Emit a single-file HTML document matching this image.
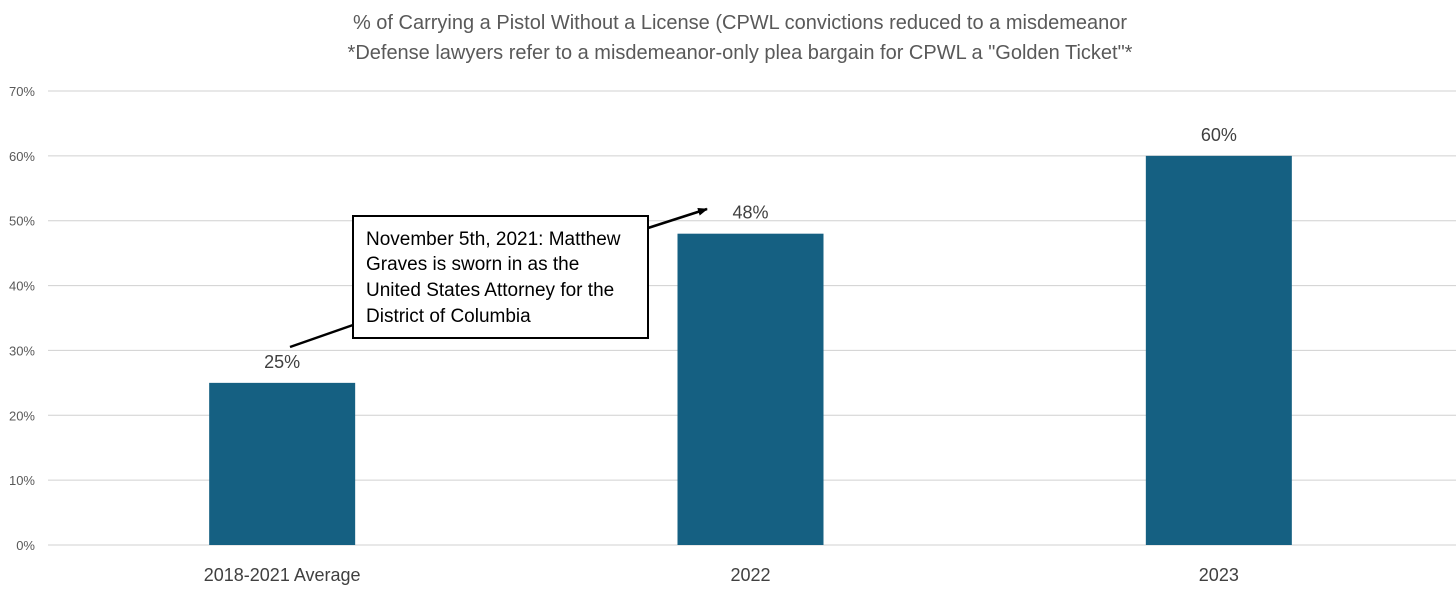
<!DOCTYPE html>
<html><head><meta charset="utf-8"><style>
body{margin:0;background:#fff;}
svg{display:block;font-family:"Liberation Sans",sans-serif;}
</style></head><body>
<svg id="chart" width="1456" height="589" viewBox="0 0 1456 589">
<defs><marker id="ah" markerWidth="10" markerHeight="8" refX="9" refY="4" orient="auto" markerUnits="userSpaceOnUse"><path d="M0,0 L10,4 L0,8 z" fill="#000"/></marker></defs>
<g fill="#595959" font-size="20" text-anchor="middle">
<text x="740" y="29">% of Carrying a Pistol Without a License (CPWL convictions reduced to a misdemeanor</text>
<text x="740" y="59">*Defense lawyers refer to a misdemeanor-only plea bargain for CPWL a "Golden Ticket"*</text>
</g>
<g id="grid"></g><g id="bars"></g><g id="labels"></g>
<line x1="290" y1="347" x2="353" y2="325" stroke="#000" stroke-width="2.5"/>
<line x1="648" y1="228" x2="707" y2="209" stroke="#000" stroke-width="2.5" marker-end="url(#ah)"/>
<g>
<rect x="353" y="216" width="295" height="122" fill="#fff" stroke="#000" stroke-width="2"/>
<g font-size="19" fill="#000">
<text x="366" y="245">November 5th, 2021: Matthew</text>
<text x="366" y="270">Graves is sworn in as the</text>
<text x="366" y="296">United States Attorney for the</text>
<text x="366" y="322">District of Columbia</text>
</g></g>
</svg>
<script>
const categories=["2018-2021 Average","2022","2023"];
const values=[25,48,60];
const ticks=[0,10,20,30,40,50,60,70];
const ns="http://www.w3.org/2000/svg";
const x0=48,x1=1453,yb=545,yt=91,maxV=70;
const y=v=>yb-(v/maxV)*(yb-yt);
const band=(x1-x0)/categories.length;
const cx=i=>x0+band*(i+0.5);
const bw=146;
function mk(t,a,p){const e=document.createElementNS(ns,t);for(const k in a)e.setAttribute(k,a[k]);p.appendChild(e);return e;}
const g=document.getElementById('grid'),b=document.getElementById('bars'),l=document.getElementById('labels');
ticks.forEach(t=>{
 const ln=mk('line',{x1:x0,x2:1456,y1:y(t),y2:y(t),stroke:'#d0d0d0','stroke-width':1},g);
 
 
 const tx=mk('text',{x:35,y:y(t)+5,'text-anchor':'end','font-size':13,fill:'#595959'},g);
 tx.textContent=t+'%';
 
 
});
categories.forEach((c,i)=>{
 const r=mk('rect',{x:cx(i)-bw/2,y:y(values[i]),width:bw,height:yb-y(values[i]),fill:'#156082'},b);
 
 
 const v=mk('text',{x:cx(i),y:y(values[i])-15,'text-anchor':'middle','font-size':18,fill:'#404040'},l);
 v.textContent=values[i]+'%';
 
 
 const cl=mk('text',{x:cx(i),y:581,'text-anchor':'middle','font-size':18,fill:'#404040'},l);
 cl.textContent=c;
 
 
});
</script>
</body></html>
